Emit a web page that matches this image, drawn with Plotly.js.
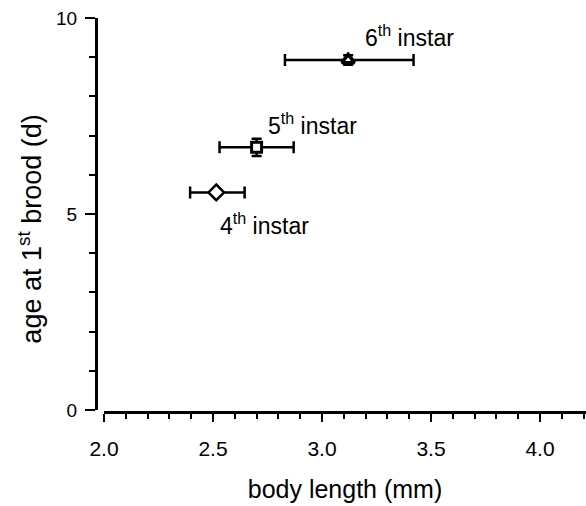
<!DOCTYPE html>
<html>
<head>
<meta charset="utf-8">
<script src="https://cdn.plot.ly/plotly-3.0.1.min.js"></script>
<style>
  html, body { margin: 0; padding: 0; background: #fff; }
  #chart { width: 586px; height: 506px; }
</style>
</head>
<body>
<div id="chart"></div>
<script>
// Instar stages: body length (mm) vs age at first brood (d)
const stages = ['4th instar', '5th instar', '6th instar'];
const stageLabels = ['4<sup>th</sup> instar', '5<sup>th</sup> instar', '6<sup>th</sup> instar'];
const bodyLength = [2.515, 2.70, 3.12];
const bodyLengthErrMinus = [0.12, 0.17, 0.29];
const bodyLengthErrPlus = [0.13, 0.17, 0.30];
const ageFirstBrood = [5.55, 6.70, 8.93];
const ageErr = [0.05, 0.22, 0.12];
const symbols = ['diamond', 'square', 'triangle-up'];

// label anchor positions (data coords, left edge of text)
const labelX = [2.523, 2.743, 3.188];
const labelY = [4.745, 7.30, 9.54];

const FONT = '"Liberation Sans", Arial, Helvetica, sans-serif';

const trace = {
  x: bodyLength,
  y: ageFirstBrood,
  text: stages,
  type: 'scatter',
  mode: 'markers',
  marker: {
    symbol: symbols,
    size: [12, 10, 11],
    color: '#fff',
    opacity: 1,
    line: { color: '#000', width: [2.5, 3, 3.5] }
  },
  error_x: {
    type: 'data', symmetric: false,
    array: bodyLengthErrPlus, arrayminus: bodyLengthErrMinus,
    color: '#000', thickness: 2.5, width: 6
  },
  error_y: {
    type: 'data', array: ageErr,
    color: '#000', thickness: 2.5, width: 5
  },
  hoverinfo: 'x+y+text',
  showlegend: false
};

const annotations = stageLabels.map((t, i) => ({
  x: labelX[i], y: labelY[i], xref: 'x', yref: 'y',
  text: t, showarrow: false, xanchor: 'left', yanchor: 'middle',
  font: { family: FONT, size: 23, color: '#000' }
}));

// vertical axis title, placed as a rotated annotation
annotations.push({
  x: -0.135, y: 0.465, xref: 'paper', yref: 'paper',
  text: 'age at 1<sup>st</sup> brood (d)', textangle: -90,
  showarrow: false, xanchor: 'center', yanchor: 'middle',
  font: { family: FONT, size: 27, color: '#000' }
});

const layout = {
  width: 586, height: 506,
  margin: { l: 96, r: 0, t: 18, b: 94, pad: 0 },
  paper_bgcolor: '#fff', plot_bgcolor: '#fff',
  font: { family: FONT, color: '#000' },
  xaxis: {
    domain: [8 / 490, 1],
    range: [2.0, 4.211],
    anchor: 'free', position: 0,
    showline: true, linecolor: '#000', linewidth: 2.5,
    showgrid: false, zeroline: false,
    ticks: 'outside', ticklen: 8, tickwidth: 2.2, tickcolor: '#000',
    dtick: 0.5, tick0: 2, tickformat: '.1f',
    ticklabelstandoff: 9,
    minor: { dtick: 0.1, ticks: 'outside', ticklen: 5, tickwidth: 2, tickcolor: '#000', showgrid: false },
    tickfont: { family: FONT, size: 21, color: '#000' },
    title: { text: 'body length (mm)', font: { family: FONT, size: 25, color: '#000' }, standoff: 21 }
  },
  yaxis: {
    domain: [2 / 394, 1],
    range: [0, 10],
    anchor: 'free', position: 0,
    showline: true, linecolor: '#000', linewidth: 2.5,
    showgrid: false, zeroline: false,
    ticks: 'outside', ticklen: 10, tickwidth: 2.2, tickcolor: '#000',
    dtick: 5, tick0: 0,
    ticklabelstandoff: 4,
    minor: { dtick: 1, ticks: 'outside', ticklen: 6, tickwidth: 2, tickcolor: '#000', showgrid: false },
    tickfont: { family: FONT, size: 19, color: '#000' }
  },
  annotations: annotations
};

Plotly.newPlot('chart', [trace], layout, { displayModeBar: false, staticPlot: true });
</script>
</body>
</html>
